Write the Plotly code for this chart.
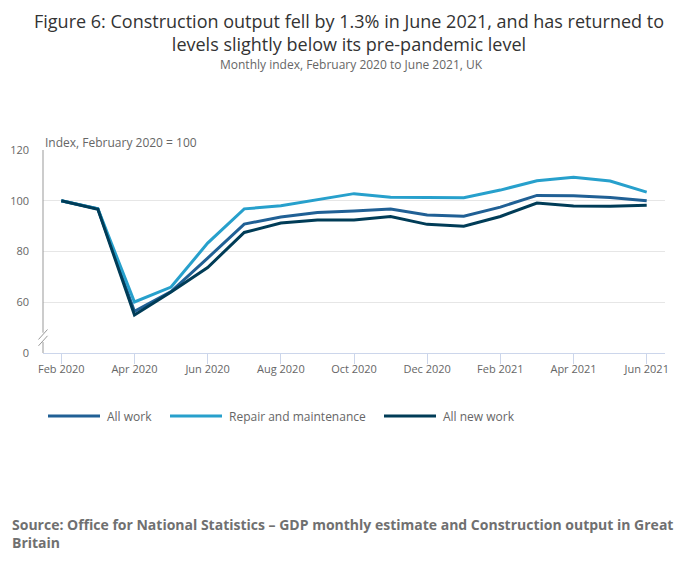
import plotly.graph_objects as go

# Monthly index, Feb 2020 = 100
months = ["Feb 2020", "Mar 2020", "Apr 2020", "May 2020", "Jun 2020", "Jul 2020",
          "Aug 2020", "Sep 2020", "Oct 2020", "Nov 2020", "Dec 2020", "Jan 2021",
          "Feb 2021", "Mar 2021", "Apr 2021", "May 2021", "Jun 2021"]

all_work = [100.0, 96.8, 56.4, 64.2, 77.4, 90.8, 93.6, 95.4, 96.0, 96.7, 94.4, 93.9,
            97.5, 102.1, 102.0, 101.3, 100.0]
repair_maintenance = [100.0, 96.8, 60.1, 66.0, 83.3, 96.8, 98.0, 100.5, 102.8, 101.4,
                      101.4, 101.2, 104.2, 107.9, 109.3, 107.8, 103.4]
all_new_work = [100.0, 96.6, 55.0, 64.0, 73.7, 87.5, 91.2, 92.4, 92.4, 93.8, 90.7, 90.0,
                93.8, 99.1, 97.9, 97.8, 98.2]

series_names = ["All work", "Repair and maintenance", "All new work"]
series_colors = ["#206095", "#27a0cc", "#003c57"]

# y axis is broken: the bottom of the axis (40) is shown as 0
y_tickvals = [40, 60, 80, 100, 120]
y_ticktext = ["0", "60", "80", "100", "120"]
x_tickvals = months[::2]

FONT = "Open Sans, sans-serif"

# page body has an 8px margin, so the figure is sized to fit inside it
W, H = 684, 558
L, R, T, B = 35, 27, 142, 213
PW, PH = W - L - R, H - T - B


def px_x(x):
    return (x - L) / PW


def px_y(y):
    return (H - B - y) / PH


fig = go.Figure()
for name, vals, col in zip(series_names, [all_work, repair_maintenance, all_new_work], series_colors):
    fig.add_trace(go.Scatter(
        x=months, y=vals, name=name, mode="lines",
        line=dict(color=col, width=3), showlegend=False,
    ))

fig.update_layout(
    width=W, height=H,
    paper_bgcolor="white", plot_bgcolor="white",
    font=dict(family=FONT, size=12, color="#666666"),
    margin=dict(l=L, r=R, t=T, b=B, autoexpand=False),
    xaxis=dict(
        type="category", range=[-0.5, 16.5], automargin=False,
        tickvals=x_tickvals, ticks="outside", ticklen=10, tickcolor="#ccd6eb",
        showline=True, linecolor="#ccd6eb", linewidth=1,
        showgrid=False, tickfont=dict(size=11, color="#666666"),
        ticklabelstandoff=-4,
    ),
    yaxis=dict(
        range=[40, 120], tickvals=y_tickvals, ticktext=y_ticktext, automargin=False,
        showgrid=True, gridcolor="#e6e6e6", zeroline=False, showline=False,
        tickfont=dict(size=11, color="#666666"), ticks="", ticklabelstandoff=13,
    ),
)

# left axis line with break marks
axis_grey = "#999999"
fig.add_shape(type="line", xref="x domain", yref="y", x0=0, x1=0, y0=48, y1=120,
              line=dict(color=axis_grey, width=1))
fig.add_shape(type="line", xref="x domain", yref="y", x0=0, x1=0, y0=40, y1=44.3,
              line=dict(color=axis_grey, width=1))
for mid in [47.3, 44.8]:
    fig.add_shape(type="line", xref="x domain", yref="y",
                  xsizemode="pixel", xanchor=0, x0=-4.5, x1=4.5,
                  ysizemode="pixel", yanchor=mid, y0=-5, y1=5,
                  line=dict(color=axis_grey, width=1))

# legend (drawn by hand to get the long line keys)
legend_x = [40, 162, 376]
for name, col, lx in zip(series_names, series_colors, legend_x):
    fig.add_shape(type="line", xref="paper", yref="paper",
                  x0=px_x(lx), x1=px_x(lx + 52), y0=px_y(408), y1=px_y(408),
                  line=dict(color=col, width=3))
    fig.add_annotation(text=name, xref="paper", yref="paper",
                       x=px_x(lx + 57), xanchor="left", y=px_y(408), yanchor="middle",
                       showarrow=False, font=dict(family=FONT, size=12, color="#666666"))

fig.add_annotation(text="Figure 6: Construction output fell by 1.3% in June 2021, and has returned to<br>"
                        "levels slightly below its pre-pandemic level",
                   xref="paper", yref="paper", x=px_x(341), xanchor="center",
                   y=px_y(24), yanchor="middle", showarrow=False, borderpad=0,
                   font=dict(family=FONT, size=18, color="#333333"))
fig.add_annotation(text="Monthly index, February 2020 to June 2021, UK",
                   xref="paper", yref="paper", x=px_x(343), xanchor="center",
                   y=px_y(57), yanchor="middle", showarrow=False,
                   font=dict(family=FONT, size=12, color="#666666"))
fig.add_annotation(text="Index, February 2020 = 100",
                   xref="paper", yref="paper", x=0, xanchor="left",
                   y=px_y(134), yanchor="middle", showarrow=False,
                   font=dict(family=FONT, size=12, color="#666666"))
fig.add_annotation(text="<b>Source: Office for National Statistics \u2013 GDP monthly estimate and Construction output in Great<br>Britain</b>",
                   xref="paper", yref="paper", x=px_x(2), xanchor="left",
                   y=px_y(525), yanchor="middle", align="left", showarrow=False,
                   font=dict(family=FONT, size=14, color="#707070"))

fig.write_html("out.html")
